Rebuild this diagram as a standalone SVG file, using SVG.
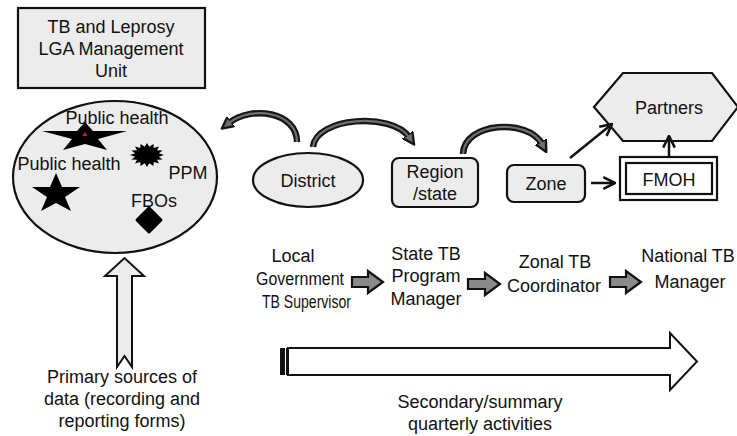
<svg xmlns="http://www.w3.org/2000/svg" width="737" height="436" viewBox="0 0 737 436">
<defs>
<style>
text{font-family:"Liberation Sans",Arial,sans-serif;font-size:18px;fill:#111;text-anchor:middle}
.box{fill:#ececec;stroke:#111;stroke-width:2.2}
.band{fill:none;stroke:#161616;stroke-width:6.5;stroke-linecap:butt}
.bandin{fill:none;stroke:#707070;stroke-width:2.2}
.ln{fill:none;stroke:#111;stroke-width:2.5}
.blk{fill:#8a8a88;stroke:#111;stroke-width:2.2;stroke-linejoin:miter}
</style>
<marker id="cv" viewBox="0 0 10 10" refX="2" refY="5" markerWidth="13" markerHeight="13" markerUnits="userSpaceOnUse" orient="auto">
<path d="M0,0.5 L9,5 L0,9.5 Z" fill="#707070" stroke="#161616" stroke-width="1.8" stroke-linejoin="round"/>
</marker>
<marker id="op" viewBox="0 0 12 12" refX="11" refY="6" markerWidth="14" markerHeight="14" markerUnits="userSpaceOnUse" orient="auto">
<path d="M1,1 L11,6 L1,11" fill="none" stroke="#111" stroke-width="2.2"/>
</marker>
</defs>
<rect width="737" height="436" fill="#fff"/>

<g id="lga-unit">
<rect class="box" x="18" y="8" width="187" height="80"/>
<text x="111" y="33">TB and Leprosy</text>
<text x="111" y="55">LGA Management</text>
<text x="111" y="77">Unit</text>
</g>

<g id="lga-facilities">
<ellipse class="box" cx="115" cy="177" rx="102" ry="76"/>
<path d="M85,122 L93,131 L127,131 L98,139 L107,150 L85,144 L63,150 L72,139 L42,131 L77,131 Z" fill="#000"/>
<path d="M85,132 L87.5,136 L82.5,136 Z" fill="#e02020"/>
<text x="117" y="124">Public health</text>
<text x="69" y="170">Public health</text>
<path d="M56,173 L62,187 L80,187 L65,197 L71,211 L56,203 L41,211 L47,197 L32,187 L50,187 Z" fill="#000"/>
<path d="M164,155 L158.8,156.7 L162.7,159.6 L157,159.7 L159,163.5 L153.7,162.1 L153.5,166.1 L149.3,163.3 L147,167 L144.7,163.3 L140.5,166.1 L140.3,162.1 L135,163.5 L137,159.7 L131.3,159.6 L135.2,156.7 L130,155 L135.2,153.3 L131.3,150.4 L137,150.3 L135,146.5 L140.3,147.9 L140.5,143.9 L144.7,146.7 L147,143 L149.3,146.7 L153.5,143.9 L153.7,147.9 L159,146.5 L157,150.3 L162.7,150.4 L158.8,153.3 Z" fill="#000"/>
<text x="188" y="179">PPM</text>
<text x="154" y="207">FBOs</text>
<path d="M149,208 L161,220 L149,232 L137,220 Z" fill="#000" stroke="#000" stroke-width="3" stroke-linejoin="round"/>
</g>

<g id="primary-sources">
<path d="M117,367 V276 H105 L124.5,258 L144,276 H132 V367 L124.5,356 Z" fill="#ececec" stroke="#111" stroke-width="2"/>
<text x="122" y="383">Primary sources of</text>
<text x="122" y="405">data (recording and</text>
<text x="122" y="427">reporting forms)</text>
</g>

<g id="district">
<ellipse class="box" cx="308" cy="180" rx="55" ry="27"/>
<text x="308" y="187">District</text>
</g>

<g id="region">
<rect class="box" x="392" y="158" width="86" height="49" rx="7"/>
<text x="435" y="178">Region</text>
<text x="435" y="200">/state</text>
</g>

<g id="zone">
<rect class="box" x="507" y="165" width="78" height="37" rx="7"/>
<text x="546" y="190">Zone</text>
</g>

<g id="fmoh">
<rect x="620" y="157" width="97" height="43" fill="#fff" stroke="#111" stroke-width="2.2"/>
<rect x="626" y="163" width="86" height="31" fill="#fff" stroke="#111" stroke-width="2.2"/>
<text x="669" y="186">FMOH</text>
</g>

<g id="partners">
<path class="box" d="M594,107 L623,73 L712,73 L738,107 L712,141 L623,141 Z"/>
<text x="669" y="114">Partners</text>
</g>

<g id="roles">
<text x="293" y="262">Local</text>
<text x="300" y="285" textLength="88" lengthAdjust="spacingAndGlyphs">Government</text>
<text x="306.5" y="308" textLength="89" lengthAdjust="spacingAndGlyphs">TB Supervisor</text>
<text x="426" y="260">State TB</text>
<text x="426" y="282">Program</text>
<text x="426" y="305">Manager</text>
<text x="555" y="268">Zonal TB</text>
<text x="554" y="292">Coordinator</text>
<text x="688" y="262">National TB</text>
<text x="690" y="288">Manager</text>
</g>

<g id="secondary">
<rect x="280" y="348" width="5" height="27" fill="#111"/>
<rect x="286" y="348" width="2" height="27" fill="#111"/>
<path d="M288,348 H670 V333 L697,361.5 L670,390 V375 H288 Z" fill="#fff" stroke="#111" stroke-width="2"/>
<text x="480" y="408">Secondary/summary</text>
<text x="480" y="430">quarterly activities</text>
</g>

<g id="connectors">
<path class="band" d="M297,142 C297,112 252,105 229,123" marker-end="url(#cv)"/>
<path class="bandin" d="M297,142 C297,112 252,105 229,123"/>
<path class="band" d="M313,147 C316,117 392,112 409,137" marker-end="url(#cv)"/>
<path class="bandin" d="M313,147 C316,117 392,112 409,137"/>
<path class="band" d="M463,154 C464,122 528,118 542,144" marker-end="url(#cv)"/>
<path class="bandin" d="M463,154 C464,122 528,118 542,144"/>
<line class="ln" x1="570" y1="158" x2="612" y2="124" marker-end="url(#op)"/>
<line class="ln" x1="591" y1="183" x2="615" y2="183" marker-end="url(#op)"/>
<line class="ln" x1="669" y1="157" x2="669" y2="136" marker-end="url(#op)"/>
<path class="blk" d="M352,277 H368 V271 L383,282 L368,293 V287 H352 Z"/>
<path class="blk" d="M468,279 H485 V273 L500,284 L485,295 V289 H468 Z"/>
<path class="blk" d="M610,277 H626 V271 L641,282 L626,293 V287 H610 Z"/>
</g>
</svg>
